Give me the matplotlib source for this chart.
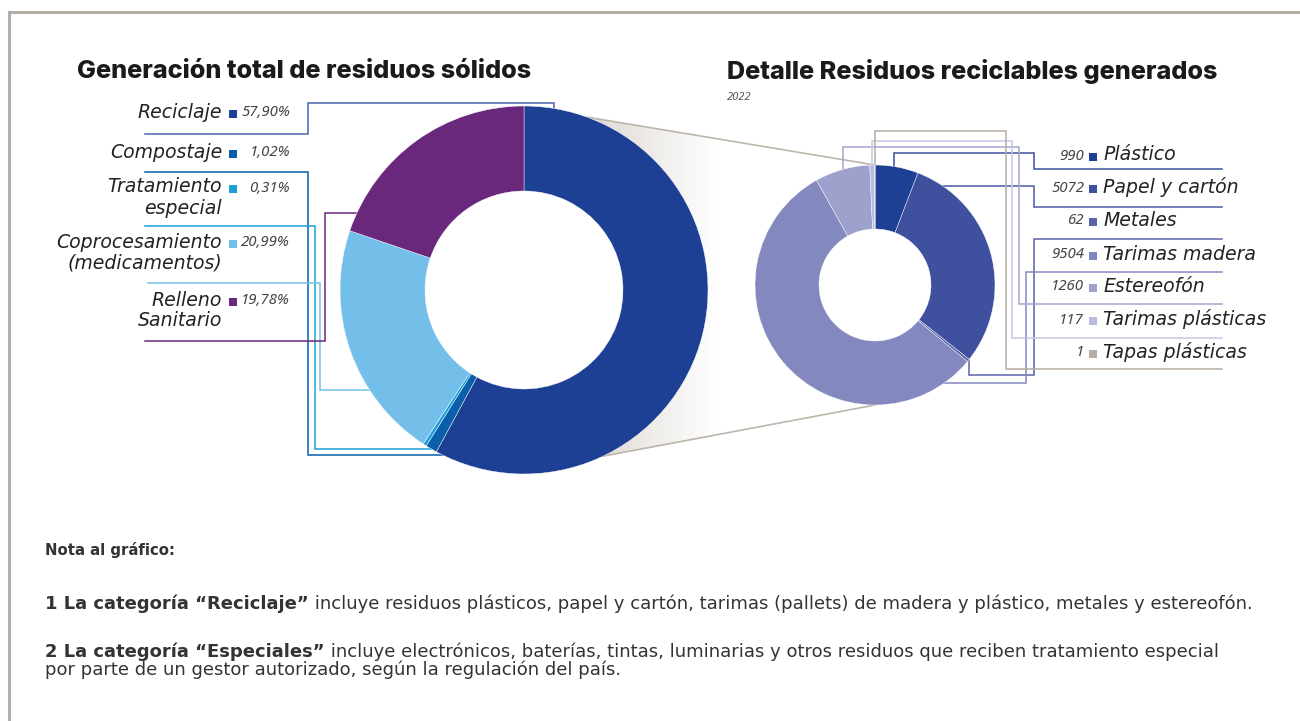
import numpy as np
import matplotlib
matplotlib.use("Agg")
import matplotlib.pyplot as plt
from matplotlib.patches import Polygon
from matplotlib.colors import LinearSegmentedColormap

# ---- data ----
left_labels = ["Reciclaje", "Compostaje", "Tratamiento\nespecial",
               "Coprocesamiento\n(medicamentos)", "Relleno\nSanitario"]
left_values = [57.90, 1.02, 0.31, 20.99, 19.78]
left_pct = ["57,90%", "1,02%", "0,31%", "20,99%", "19,78%"]
left_colors = ["#1d3f94", "#0a5eaa", "#1ba0d8", "#74bfea", "#6a287c"]
left_line_colors = ["#4a64b0", "#0a5eaa", "#1ba0d8", "#74bfea", "#6a287c"]

right_labels = ["Plástico", "Papel y cartón", "Metales", "Tarimas madera",
                "Estereofón", "Tarimas plásticas", "Tapas plásticas"]
right_values = [990, 5072, 62, 9504, 1260, 117, 1]
right_colors = ["#1d3f94", "#3f519e", "#5863a9", "#8388bf",
                "#9fa1cd", "#b9bbdf", "#b5aca2"]
right_line_colors = ["#3d50a0", "#4a5aa5", "#5863a9", "#8388bf",
                     "#a3a6d2", "#c5c7e6", "#b5aca2"]

# ---- layout (pixels, y downwards) ----
W, H = 1300, 721
c1, R1, r1 = (524, 290), 184, 99
c2, R2, r2 = (875, 285), 120, 56
left_rows = [112, 152, 187, 242, 300]
right_rows = [155, 187, 220, 254, 286, 319, 352]

fig = plt.figure(figsize=(W / 100, H / 100), dpi=100)
ax = fig.add_axes([0, 0, 1, 1])

def circle_y(c, R, x, side):
    return c[1] + side * np.sqrt(R ** 2 - (x - c[0]) ** 2)

def circle_x(c, R, y, side):
    return c[0] + side * np.sqrt(R ** 2 - (y - c[1]) ** 2)

# donuts (y axis is inverted, so startangle -90 + counterclock = clockwise from top)
ax.pie(left_values, colors=left_colors, center=c1, radius=R1, startangle=-90,
       counterclock=True, wedgeprops=dict(width=R1 - r1, edgecolor="white", linewidth=0.3))
ax.pie(right_values, colors=right_colors, center=c2, radius=R2, startangle=-90,
       counterclock=True, wedgeprops=dict(width=R2 - r2, edgecolor="white", linewidth=0.3))
for w in ax.patches:
    w.set_zorder(3)

# zoom cone between the two donuts
top_a = (587, circle_y(c1, R1, 587, -1))
bot_a = (603, circle_y(c1, R1, 603, 1))
top_b = (c2[0], c2[1] - R2)
bot_b = (c2[0], c2[1] + R2)
a0 = np.arctan2(bot_a[1] - c1[1], bot_a[0] - c1[0])
a1 = np.arctan2(top_a[1] - c1[1], top_a[0] - c1[0])
arc = np.linspace(a0, a1, 40)
arc_pts = np.column_stack([c1[0] + R1 * np.cos(arc), c1[1] + R1 * np.sin(arc)])
cone = Polygon(np.vstack([arc_pts, [top_b, bot_b]]), closed=True, transform=ax.transData)
cmap = LinearSegmentedColormap.from_list("cone", ["#d6d0c8", "#ffffff"])
grad = np.linspace(0, 1, 256).reshape(1, -1)
im = ax.imshow(grad, cmap=cmap, extent=(560, 715, 480, 100), aspect="auto", zorder=1)
im.set_clip_path(cone)
ax.plot([top_a[0], top_b[0]], [top_a[1], top_b[1]], color="#bdb5ab", lw=1.2, zorder=2)
ax.plot([bot_a[0], bot_b[0]], [bot_a[1], bot_b[1]], color="#bdb5ab", lw=1.2, zorder=2)

# leader lines, left chart
left_paths = [
    [(145, 134), (308, 134), (308, 103), (554, 103), (554, circle_y(c1, R1, 554, -1))],
    [(145, 172), (308, 172), (308, 455), (circle_x(c1, R1, 455, -1), 455)],
    [(145, 226), (315, 226), (315, 449), (circle_x(c1, R1, 449, -1), 449)],
    [(148, 283), (320, 283), (320, 390), (circle_x(c1, R1, 390, -1), 390)],
    [(145, 341), (325, 341), (325, 213), (circle_x(c1, R1, 213, -1), 213)],
]
for path, col in zip(left_paths, left_line_colors):
    xs, ys = zip(*path)
    ax.plot(xs, ys, color=col, lw=1.1, zorder=2, solid_joinstyle="miter")

# leader lines, right chart
right_paths = [
    [(1222, 169), (1034, 169), (1034, 153), (894, 153), (894, circle_y(c2, R2, 894, -1))],
    [(1222, 207), (1034, 207), (1034, 186), (circle_x(c2, R2, 186, 1), 186)],
    [(1222, 239), (1034, 239), (1034, 375), (969, 375), (969, circle_y(c2, R2, 969, 1))],
    [(1222, 272), (1026, 272), (1026, 383), (circle_x(c2, R2, 383, 1), 383)],
    [(1222, 304), (1019, 304), (1019, 147), (843, 147), (843, circle_y(c2, R2, 843, -1))],
    [(1222, 338), (1012, 338), (1012, 141), (872, 141), (872, circle_y(c2, R2, 872, -1))],
    [(1222, 369), (1006, 369), (1006, 131), (875, 131), (875, circle_y(c2, R2, 875, -1))],
]
for path, col in zip(right_paths, right_line_colors):
    xs, ys = zip(*path)
    ax.plot(xs, ys, color=col, lw=1.1, zorder=2, solid_joinstyle="miter")

# legends
lab_font = dict(family="DejaVu Sans", style="oblique", fontsize=13.6, color="#222222")
num_font = dict(family="Noto Sans", style="italic", fontsize=10.8, color="#444444")
for lab, pct, col, y in zip(left_labels, left_pct, left_colors, left_rows):
    for i, line in enumerate(lab.split("\n")):
        ax.text(222, y + i * 21, line, ha="right", va="center", **lab_font)
    ax.scatter([233], [y + 2], marker="s", s=32, color=col, zorder=4, linewidths=0)
    ax.text(290, y + 1, pct, ha="right", va="center", **num_font)

for lab, val, col, y in zip(right_labels, right_values, right_colors, right_rows):
    ax.text(1084, y + 1, str(val), ha="right", va="center", **num_font)
    ax.scatter([1093], [y + 2], marker="s", s=32, color=col, zorder=4, linewidths=0)
    ax.text(1103, y, lab, ha="left", va="center", **lab_font)

# titles
title_font = dict(family="Inter", fontweight=800, fontsize=18.2, color="#1a1a1a")
ax.text(77, 72, "Generación total de residuos sólidos", ha="left", va="center", **title_font)
ax.text(727, 72, "Detalle Residuos reciclables generados", ha="left", va="center", **title_font)
ax.text(727, 98, "2022", ha="left", va="center", family="Noto Sans", style="italic",
        fontsize=8, color="#555555")

# notes
note_font = dict(family="DejaVu Sans", fontsize=13.0, color="#333333")
ax.text(45, 550, "Nota al gráfico:", ha="left", va="center", fontweight="bold",
        family="DejaVu Sans", fontsize=10.7, color="#333333")
t1 = ax.text(45, 609, "1 La categoría “Reciclaje”", ha="left", va="baseline",
             fontweight="bold", **note_font)
ax.annotate(" incluye residuos plásticos, papel y cartón, tarimas (pallets) de madera y plástico, metales y estereofón.",
            xy=(1, 0), xycoords=t1, ha="left", va="bottom", **note_font)
t2 = ax.text(45, 657, "2 La categoría “Especiales”", ha="left", va="baseline",
             fontweight="bold", **note_font)
ax.annotate(" incluye electrónicos, baterías, tintas, luminarias y otros residuos que reciben tratamiento especial",
            xy=(1, 0), xycoords=t2, ha="left", va="bottom", **note_font)
ax.text(45, 675, "por parte de un gestor autorizado, según la regulación del país.",
        ha="left", va="baseline", **note_font)

# frame
ax.plot([9, W], [12, 12], color="#b5aea6", lw=2.2, zorder=5)
ax.plot([9, 9], [12, H], color="#b5aea6", lw=2.2, zorder=5)

ax.set_xlim(0, W)
ax.set_ylim(H, 0)
ax.axis("off")
fig.savefig("out.png", dpi=100, facecolor="white")
